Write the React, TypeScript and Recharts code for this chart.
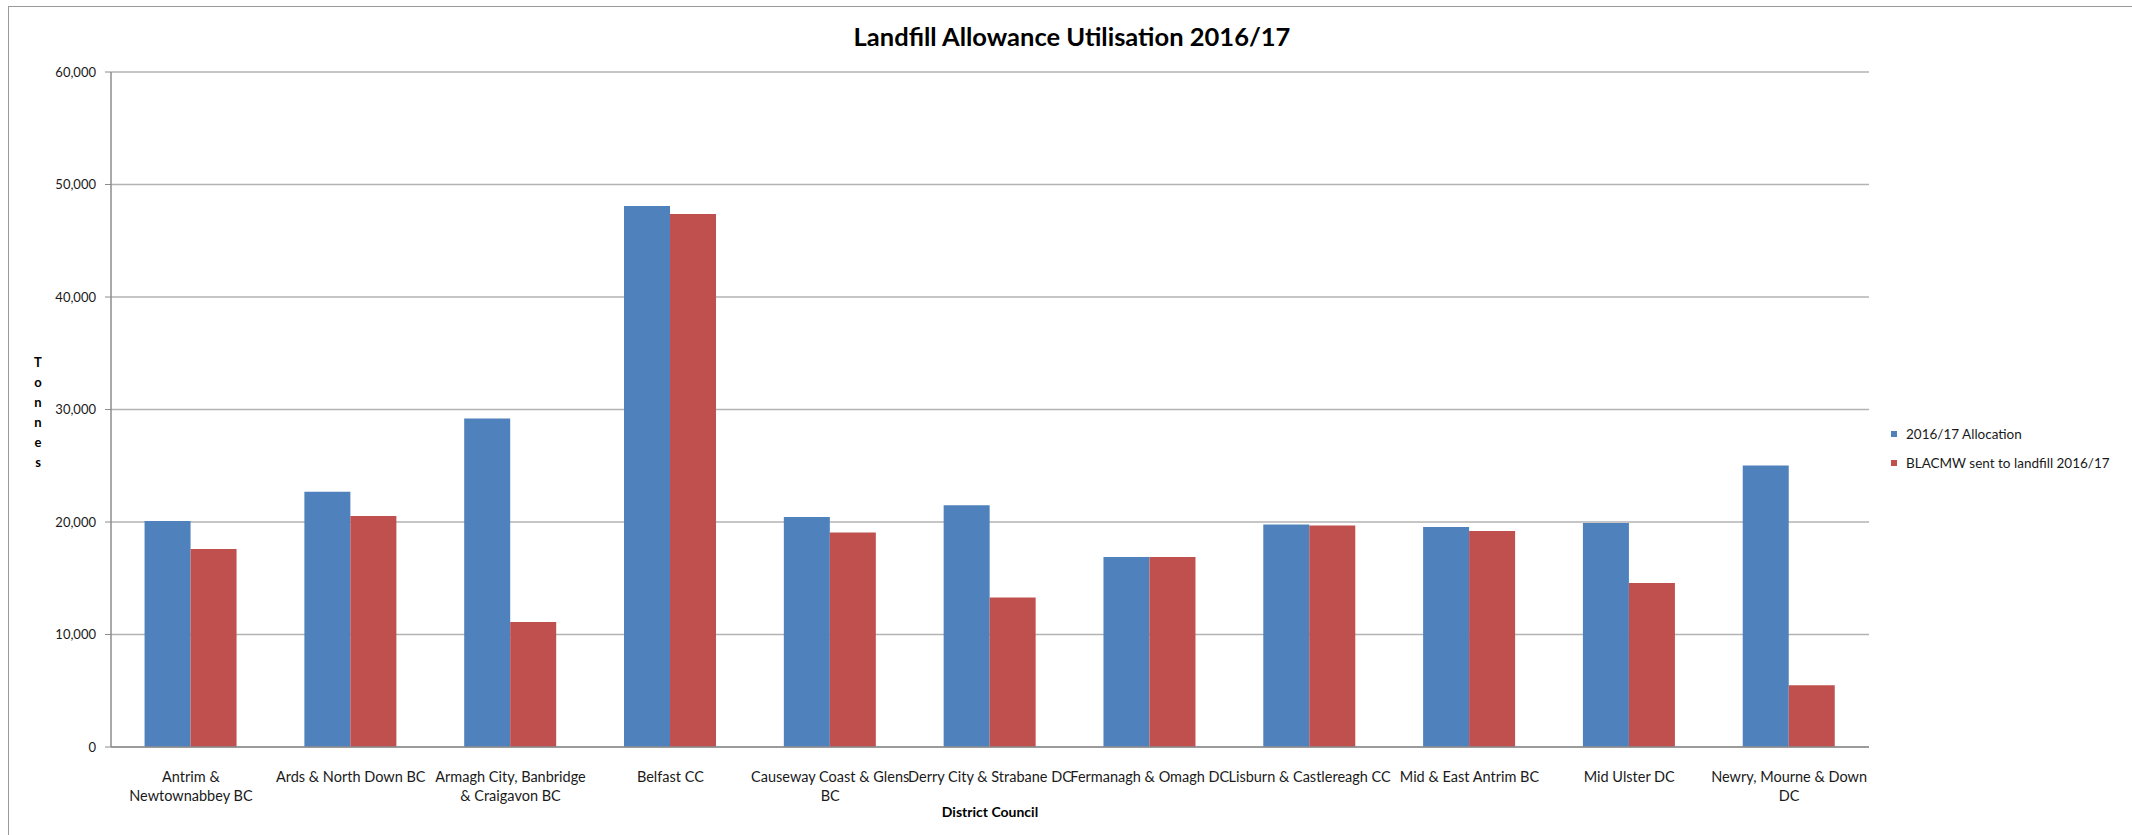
import React from "react";
import {
  BarChart,
  Bar,
  XAxis,
  YAxis,
  CartesianGrid,
  Legend,
} from "recharts";

// councils, in the order shown on the x axis
const councils = [
  "Antrim & Newtownabbey BC",
  "Ards & North Down BC",
  "Armagh City, Banbridge & Craigavon BC",
  "Belfast CC",
  "Causeway Coast & Glens BC",
  "Derry City & Strabane DC",
  "Fermanagh & Omagh DC",
  "Lisburn & Castlereagh CC",
  "Mid & East Antrim BC",
  "Mid Ulster DC",
  "Newry, Mourne & Down DC",
];

// tick labels as they wrap in the original
const tickLines = [
  ["Antrim &", "Newtownabbey BC"],
  ["Ards & North Down BC"],
  ["Armagh City, Banbridge", "& Craigavon BC"],
  ["Belfast CC"],
  ["Causeway Coast & Glens", "BC"],
  ["Derry City & Strabane DC"],
  ["Fermanagh & Omagh DC"],
  ["Lisburn & Castlereagh CC"],
  ["Mid & East Antrim BC"],
  ["Mid Ulster DC"],
  ["Newry, Mourne & Down", "DC"],
];

const allocation = [
  20100, 22700, 29200, 48100, 20450, 21480, 16900, 19780, 19550, 19920, 25030,
];
const sentToLandfill = [
  17600, 20540, 11120, 47370, 19070, 13300, 16900, 19690, 19210, 14580, 5490,
];

const yTicks = [0, 10000, 20000, 30000, 40000, 50000, 60000];

const data = councils.map((name, i) => ({
  name,
  allocation: allocation[i],
  landfill: sentToLandfill[i],
}));

const FONT = "Lato, 'Open Sans', sans-serif";

const CouncilTick = ({ x, y, payload }: any) => {
  const lines = tickLines[payload.index] || [payload.value];
  return (
    <text
      x={x}
      y={y}
      textAnchor="middle"
      fill="#1a1a1a"
      fontSize={14.5}
      fontFamily={FONT}
    >
      {lines.map((l: string, i: number) => (
        <tspan key={i} x={x} dy={i === 0 ? 27 : 19}>
          {l}
        </tspan>
      ))}
    </text>
  );
};

const LegendBox = ({ payload }: any) => (
  <div style={{ fontFamily: FONT, fontSize: 13.5, color: "#1a1a1a" }}>
    {(payload || []).map((p: any, i: number) => (
      <div
        key={i}
        style={{ display: "flex", alignItems: "center", height: 29 }}
      >
        <span
          style={{
            width: 6,
            height: 6,
            background: p.color,
            marginRight: 9,
            display: "inline-block",
          }}
        />
        {p.value}
      </div>
    ))}
  </div>
);

export default function App() {
  return (
    <div
      style={{
        position: "absolute",
        left: 0,
        top: 0,
        width: 2132,
        height: 835,
        background: "#fff",
        overflow: "hidden",
      }}
    >
      {/* outer chart frame */}
      <div
        style={{
          position: "absolute",
          left: 8,
          top: 6,
          width: 2200,
          height: 900,
          borderLeft: "1px solid #9a9a9a",
          borderTop: "1px solid #9a9a9a",
        }}
      />
      <div
        style={{
          position: "absolute",
          left: 0,
          width: 2144,
          top: 21,
          textAlign: "center",
          fontFamily: FONT,
          fontWeight: "bold",
          fontSize: 25.5,
          color: "#000",
        }}
      >
        Landfill Allowance Utilisation 2016/17
      </div>
      <div
        style={{
          position: "absolute",
          left: 28,
          width: 20,
          top: 352,
          textAlign: "center",
          fontFamily: FONT,
          fontWeight: "bold",
          fontSize: 13,
          lineHeight: "20px",
          color: "#000",
        }}
      >
        {"Tonnes".split("").map((c, i) => (
          <div key={i}>{c}</div>
        ))}
      </div>
      <div
        style={{
          position: "absolute",
          left: 790,
          width: 400,
          top: 803,
          textAlign: "center",
          fontFamily: FONT,
          fontWeight: "bold",
          fontSize: 14,
          color: "#000",
        }}
      >
        District Council
      </div>
      <BarChart
        width={2132}
        height={835}
        data={data}
        margin={{ top: 72, right: 263, bottom: 28, left: 51 }}
        barCategoryGap="21%"
        barGap={0}
        style={{ position: "absolute", left: 0, top: 0 }}
      >
        <CartesianGrid
          vertical={false}
          stroke="#b3b3b3"
          strokeWidth={1.5}
        />
        <XAxis
          dataKey="name"
          height={60}
          interval={0}
          tickLine={false}
          axisLine={{ stroke: "#8c8c8c", strokeWidth: 1.5 }}
          tick={<CouncilTick />}
        />
        <YAxis
          width={60}
          domain={[0, 60000]}
          ticks={yTicks}
          interval={0}
          tickSize={6}
          tickMargin={9}
          axisLine={{ stroke: "#8c8c8c", strokeWidth: 1.5 }}
          tickLine={{ stroke: "#8c8c8c" }}
          tick={{ fill: "#1a1a1a", fontSize: 13, fontFamily: FONT }}
          tickFormatter={(v: number) => v.toLocaleString("en-GB")}
        />
        <Legend
          layout="horizontal"
          align="center"
          verticalAlign="middle"
          content={<LegendBox />}
          wrapperStyle={{ left: 1891, top: 419, width: 240 }}
        />
        <Bar
          dataKey="allocation"
          name="2016/17 Allocation"
          fill="#4f81bd"
          isAnimationActive={false}
        />
        <Bar
          dataKey="landfill"
          name="BLACMW sent to landfill 2016/17"
          fill="#c0504d"
          isAnimationActive={false}
        />
      </BarChart>
    </div>
  );
}
